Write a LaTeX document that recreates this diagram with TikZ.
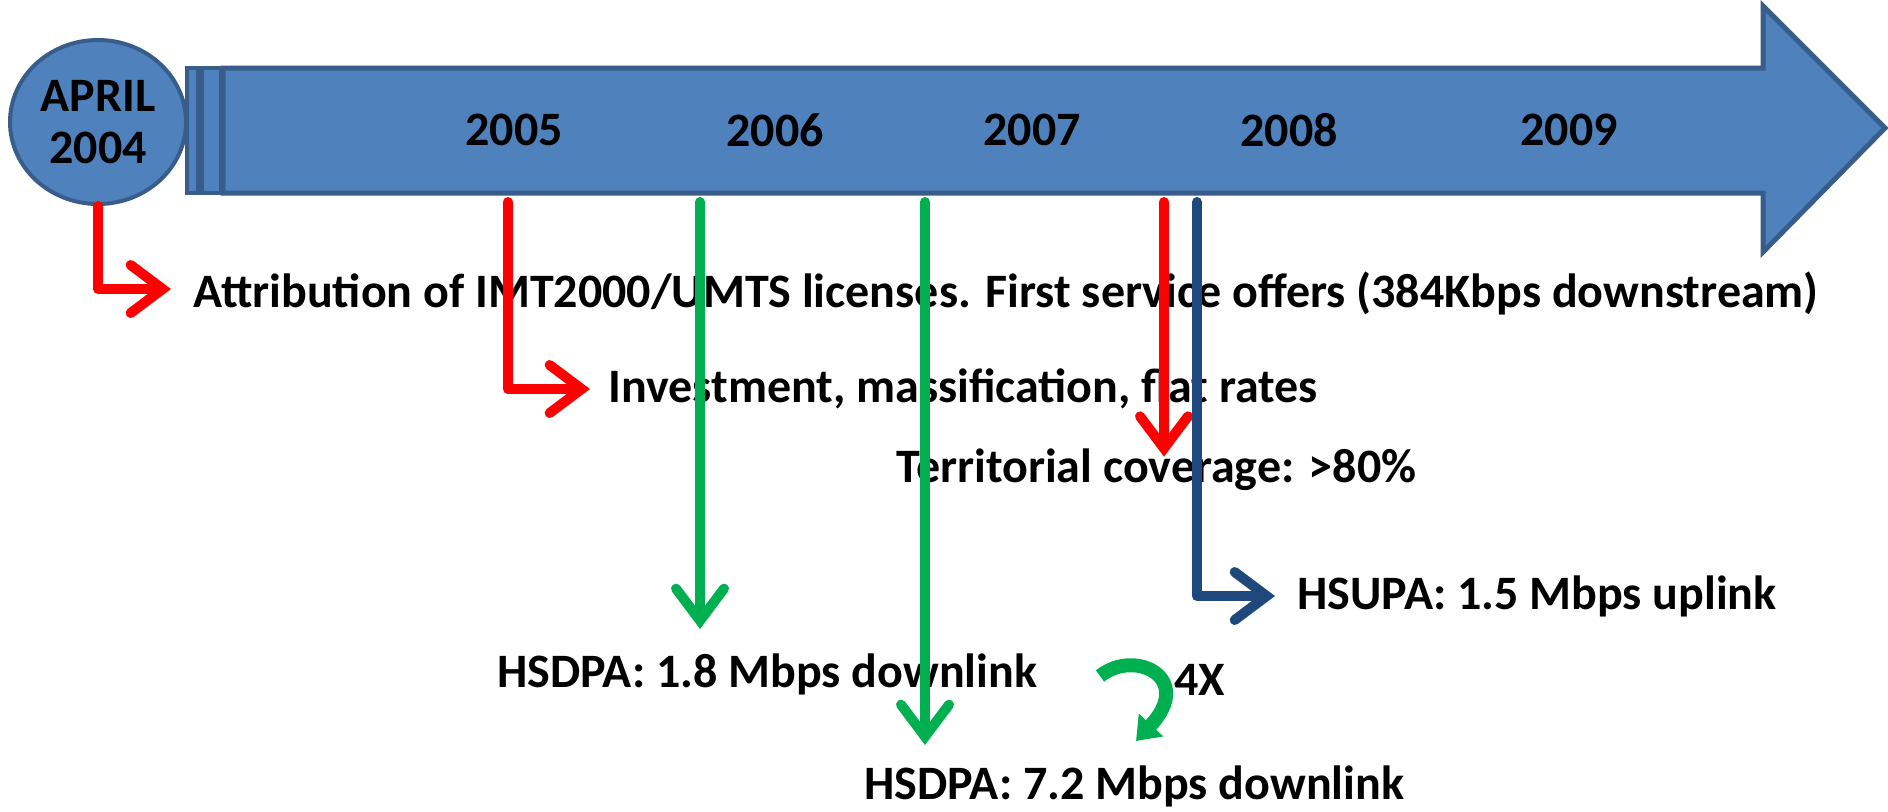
\documentclass[tikz,border=0pt]{standalone}
\usepackage{fontspec}
\setmainfont{Carlito}
\usetikzlibrary{arrows.meta,shapes.geometric}
\definecolor{barfill}{HTML}{4F81BD}
\definecolor{barline}{HTML}{385D8A}
\definecolor{hotred}{HTML}{FF0000}
\definecolor{fresh}{HTML}{00B050}
\definecolor{navy}{HTML}{1F497D}

\begin{document}
\begin{tikzpicture}[x=0.5pt,y=-0.5pt,font=\fontsize{24}{28}\selectfont\bfseries,
     lbl/.style={inner sep=0pt,anchor=west},
     yr/.style={inner sep=0pt},
     tl/.style={draw=barline,fill=barfill,line width=2.5pt,line join=miter},
     rarr/.style={draw=hotred,line width=5pt,line cap=round,line join=round,-{Straight Barb[length=16pt,width=24pt,line cap=round,line join=miter]}},
     garr/.style={rarr,draw=fresh},
     barr/.style={rarr,draw=navy}]
    \useasboundingbox (0,0) rectangle (1888,811);
    % timeline body
    \draw[tl] (223,68) -- (1763,68) -- (1763,6) -- (1885,128) -- (1763,252) -- (1763,193) -- (223,193) -- cycle;
    \draw[tl,line width=2pt] (187,68) rectangle (198,193);
    \draw[tl,line width=2pt] (202,68) rectangle (221,193);
    \node[tl,ellipse,line width=2pt,inner sep=0pt,
          minimum width=88pt,minimum height=82pt,align=center] (start) at (98,122) {APRIL\\[-2pt]2004};
    \node[yr] (y05) at (514,130){2005}; \node[yr] (y06) at (775,130){2006};
    \node[yr] (y07) at (1032,130){2007}; \node[yr] (y08) at (1289,130){2008};
    \node[yr] (y09) at (1569,130){2009};
    % milestones
    \node[lbl] (attr) at (193,293){Attribution of IMT2000/UMTS licenses. First service offers (384Kbps downstream)};
    \node[lbl] (inv) at (608,389){Investment, massification, flat rates};
    \node[lbl] (terr) at (896,470){Territorial coverage: >80\%};
    \node[lbl] (hsupa) at (1297,596){HSUPA: 1.5 Mbps uplink};
    \node[lbl] (hs18) at (497,674){HSDPA: 1.8 Mbps downlink};
    \node[lbl] (fourx) at (1174,680){4X};
    \node[lbl] (hs72) at (864,786){HSDPA: 7.2 Mbps downlink};
    \coordinate (t05) at (508,202); \coordinate (t06) at (700,202);
    \coordinate (t07) at (925,202); \coordinate (t07b) at (1164,202);
    \coordinate (t08) at (1197,202);
    \coordinate (cv0) at (1100,676); \coordinate (cv1) at (1136,741);
    \draw[rarr] (start.south) |- ([xshift=-11pt,yshift=2pt]attr.west);
    \draw[rarr] (t05) |- ([xshift=-9pt]inv.west);
    \draw[rarr] (t07b) -- ([yshift=-4pt]t07b |- terr.north);
    \draw[barr] (t08) |- ([xshift=-11pt]hsupa.west);
    \draw[garr] (t06) -- ([yshift=12pt]t06 |- hs18.north);
    \draw[garr] (t07) -- ([yshift=10pt]t07 |- hs72.north);
    \draw[fresh,line width=7pt,-{Triangle[length=11pt,width=16pt]}] (cv0) .. controls (1135,648) and (1195,678) .. (cv1);
\end{tikzpicture}
\end{document}
